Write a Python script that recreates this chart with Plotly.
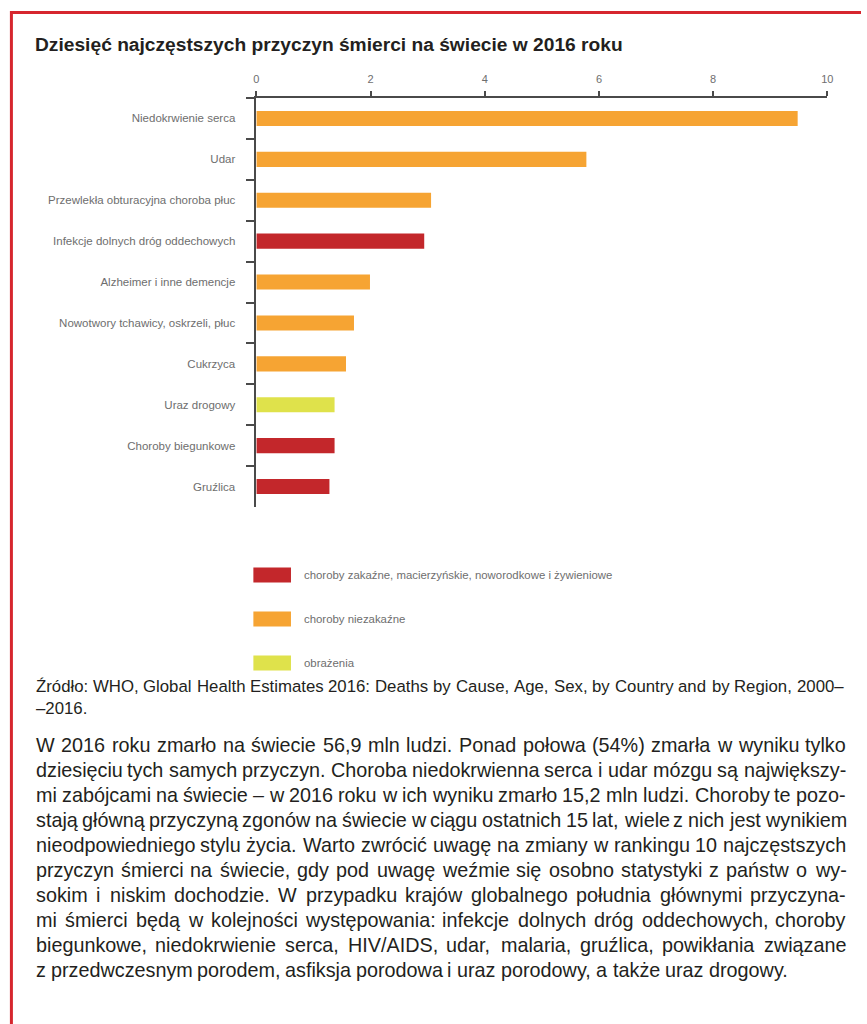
import plotly.graph_objects as go

W, H = 867, 1024

# ---- data -------------------------------------------------------------
causes = [
    "Niedokrwienie serca",
    "Udar",
    "Przewlekła obturacyjna choroba płuc",
    "Infekcje dolnych dróg oddechowych",
    "Alzheimer i inne demencje",
    "Nowotwory tchawicy, oskrzeli, płuc",
    "Cukrzyca",
    "Uraz drogowy",
    "Choroby biegunkowe",
    "Gruźlica",
]
deaths_mln = [9.48, 5.78, 3.06, 2.94, 1.99, 1.71, 1.57, 1.37, 1.37, 1.28]
cause_group = ["nz", "nz", "nz", "zk", "nz", "nz", "nz", "ob", "zk", "zk"]

group_order = ["zk", "nz", "ob"]
group_labels = {
    "zk": "choroby zakaźne, macierzyńskie, noworodkowe i żywieniowe",
    "nz": "choroby niezakaźne",
    "ob": "obrażenia",
}
group_colors = {"zk": "#C3272B", "nz": "#F6A433", "ob": "#DFE24B"}

x_ticks = [0, 2, 4, 6, 8, 10]

title_text = "Dziesięć najczęstszych przyczyn śmierci na świecie w 2016 roku"

source_lines = [
    "Źródło: WHO, Global Health Estimates 2016: Deaths by Cause, Age, Sex, by Country and by Region, 2000–",
    "–2016.",
]

body_lines = [
    "W 2016 roku zmarło na świecie 56,9 mln ludzi. Ponad połowa (54%) zmarła w wyniku tylko",
    "dziesięciu tych samych przyczyn. Choroba niedokrwienna serca i udar mózgu są największy-",
    "mi zabójcami na świecie – w 2016 roku w ich wyniku zmarło 15,2 mln ludzi. Choroby te pozo-",
    "stają główną przyczyną zgonów na świecie w ciągu ostatnich 15 lat, wiele z nich jest wynikiem",
    "nieodpowiedniego stylu życia. Warto zwrócić uwagę na zmiany w rankingu 10 najczęstszych",
    "przyczyn śmierci na świecie, gdy pod uwagę weźmie się osobno statystyki z państw o wy-",
    "sokim i niskim dochodzie. W przypadku krajów globalnego południa głównymi przyczyna-",
    "mi śmierci będą w kolejności występowania: infekcje dolnych dróg oddechowych, choroby",
    "biegunkowe, niedokrwienie serca, HIV/AIDS, udar, malaria, gruźlica, powikłania związane",
    "z przedwczesnym porodem, asfiksja porodowa i uraz porodowy, a także uraz drogowy.",
]

# ---- helpers ----------------------------------------------------------
TEXT_FONT = "Liberation Sans, Arial, sans-serif"

# advance widths (1/1000 em) of the metric-compatible sans face
ADV = {" ": 278, "!": 278, "%": 889, "(": 333, ")": 333, ",": 278, "-": 333,
       ".": 278, "/": 278, ":": 278, ";": 278, "–": 556}
for ch in "0123456789":
    ADV[ch] = 556
ADV.update(dict(zip("ABCDEFGHIJKLMNOPQRSTUVWXYZ",
                    [667, 667, 722, 722, 667, 611, 778, 722, 278, 500, 667, 556, 833,
                     722, 778, 667, 778, 722, 667, 611, 722, 667, 944, 667, 667, 611])))
ADV.update(dict(zip("abcdefghijklmnopqrstuvwxyz",
                    [556, 556, 500, 556, 556, 278, 556, 556, 222, 222, 500, 222, 833,
                     556, 556, 556, 556, 333, 500, 278, 556, 500, 722, 500, 500, 500])))
ADV.update({"ą": 556, "ć": 500, "ę": 556, "ł": 222, "ń": 556, "ó": 556, "ś": 500,
            "ź": 500, "ż": 500, "Ś": 667, "Ź": 611, "Ż": 611, "Ł": 556})


def px_x(x):
    return x / W


def px_y(y):
    return 1 - y / H


def text_width(s, size):
    return sum(ADV.get(ch, 556) for ch in s) * size / 1000.0


def set_line(annos, line, y, size, color, justify, left=32, right=850):
    """Lay out one line of running text word by word (justified if asked)."""
    words = line.split(" ")
    widths = [text_width(w, size) for w in words]
    gap = text_width(" ", size)
    if justify and len(words) > 1:
        # stretch or slightly tighten the word spacing to fill the measure
        gap = max(0.6 * gap, (right - left - sum(widths)) / (len(words) - 1))
    x = left
    for word, wd in zip(words, widths):
        annos.append(dict(
            text=word, x=px_x(x), y=px_y(y), xref="paper", yref="paper",
            xanchor="left", yanchor="middle", showarrow=False, borderpad=0,
            font=dict(family=TEXT_FONT, size=size, color=color)))
        x += wd + gap


# ---- figure -----------------------------------------------------------
fig = go.Figure()

fig.add_trace(go.Bar(
    x=deaths_mln,
    y=causes,
    orientation="h",
    marker=dict(color=[group_colors[g] for g in cause_group], line=dict(width=0)),
    showlegend=False,
    hoverinfo="x+y",
))

AXIS_COLOR = "#4a4a4a"
LABEL_COLOR = "#6e6e6e"

fig.update_layout(
    width=W, height=H,
    margin=dict(l=0, r=0, t=0, b=0),
    paper_bgcolor="white", plot_bgcolor="white",
    bargap=0.63,
    xaxis=dict(
        domain=[px_x(256), px_x(833)],
        range=[0, 10], side="top",
        tickvals=x_ticks, ticktext=[str(t) for t in x_ticks],
        ticks="outside", ticklen=5, tickwidth=1.5, tickcolor=AXIS_COLOR,
        showline=True, linecolor=AXIS_COLOR, linewidth=1.5,
        showgrid=False, zeroline=False,
        ticklabelstandoff=4,
        tickfont=dict(family=TEXT_FONT, size=11, color=LABEL_COLOR),
    ),
    yaxis=dict(
        domain=[px_y(507), px_y(98)],
        type="category", categoryorder="array", categoryarray=causes,
        range=[len(causes) - 0.5, -0.5],
        ticks="outside", tickson="boundaries", ticklen=9, tickwidth=1.5,
        tickcolor=AXIS_COLOR,
        showline=True, linecolor=AXIS_COLOR, linewidth=1.5,
        showgrid=False, zeroline=False,
        ticklabelstandoff=17,
        tickfont=dict(family=TEXT_FONT, size=11.5, color=LABEL_COLOR),
    ),
)

annotations = []
shapes = []

# title
annotations.append(dict(
    text="<b>" + title_text + "</b>", x=px_x(31), y=px_y(44),
    xref="paper", yref="paper", xanchor="left", yanchor="middle",
    showarrow=False, borderpad=0,
    font=dict(family=TEXT_FONT, size=19.2, color="#231f20")))

# legend swatches and labels
legend_y = [575, 619, 663]
for g, yc in zip(group_order, legend_y):
    shapes.append(dict(
        type="rect", xref="paper", yref="paper",
        x0=px_x(253), x1=px_x(291), y0=px_y(yc - 7.5), y1=px_y(yc + 7.5),
        fillcolor=group_colors[g], line=dict(width=0), layer="above"))
    annotations.append(dict(
        text=group_labels[g], x=px_x(303), y=px_y(yc),
        xref="paper", yref="paper", xanchor="left", yanchor="middle",
        showarrow=False, borderpad=0,
        font=dict(family=TEXT_FONT, size=11.4, color=LABEL_COLOR)))

# source note
for i, line in enumerate(source_lines):
    set_line(annotations, line, 686 + 22 * i, 16.8, "#231f20",
             justify=(i < len(source_lines) - 1), right=848)

# body paragraph
for i, line in enumerate(body_lines):
    set_line(annotations, line, 745 + 25 * i, 19.8, "#231f20",
             justify=(i < len(body_lines) - 1), right=850)

# red frame on the left and top edges
shapes.append(dict(
    type="path", xref="paper", yref="paper",
    path="M {:.5f},0 L {:.5f},{:.5f} L 1,{:.5f}".format(
        px_x(8.5), px_x(8.5), px_y(12.5), px_y(12.5)),
    line=dict(color="#D6262E", width=3)))

fig.update_layout(annotations=annotations, shapes=shapes)

fig.write_html("out.html")
